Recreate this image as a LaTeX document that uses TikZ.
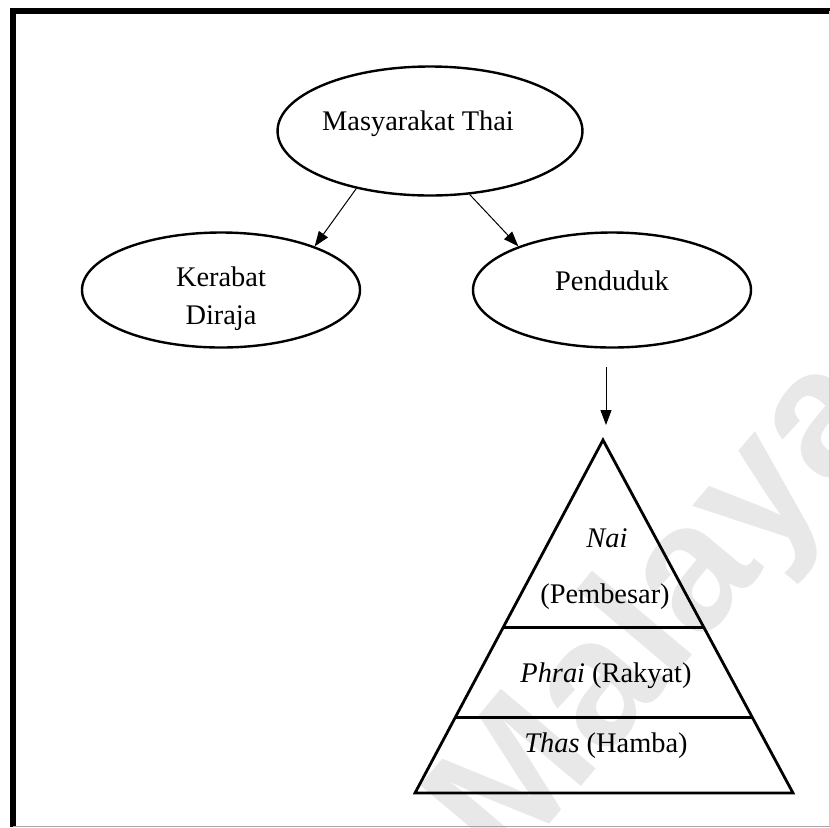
\documentclass[tikz,border=0pt]{standalone}
\usepackage{fontspec}
\setmainfont{Liberation Serif}
\newfontfamily\wmfont{Liberation Sans}
\usetikzlibrary{shapes.geometric, arrows.meta, calc}

\begin{document}
\begin{tikzpicture}[x=0.5pt, y=-0.5pt,
    blob/.style={ellipse, draw, line width=1.2pt, minimum width=139pt, minimum height=57.5pt,
      inner sep=0pt, align=center, font=\fontsize{14.2}{19}\selectfont},
    arr/.style={-{Triangle[length=7.5pt, width=5.5pt]}, line width=0.5pt},
    lbl/.style={anchor=base, font=\fontsize{14.2}{19}\selectfont},
    layer/.style={line width=1.4pt},
    wm/.style={rotate=50, text=black!9, font=\wmfont\bfseries\fontsize{90}{90}\selectfont}]
    \useasboundingbox (0,0) rectangle (830,827);
    % watermark
    \begin{scope}
      \clip (0,0) rectangle (830,827);
      \node[wm] (watermark) at (665,615) {Malaya};
    \end{scope}
    % frame
    \draw[line width=3pt] (13,827) -- (13,11) -- (830,11);
    \draw[black!35, line width=0.5pt] (13,826) -- (830,826);
    \draw[black!20, line width=0.5pt] (829,11) -- (829,826);
    % ellipses
    \node[blob, minimum width=150pt, minimum height=64.5pt, text height=10pt, text depth=10.5pt] (masy) at (430,131) {Masyarakat Thai\hspace{12pt}};
    \node[blob, text height=37.5pt] (kerabat) at (221,290) {Kerabat\\Diraja};
    \node[blob, text height=10pt, text depth=10pt] (penduduk) at (612,290) {Penduduk};
    \draw[arr] (masy.218) -- (kerabat.25);
    \draw[arr] (masy.302) -- (penduduk.155);
    % pyramid
    \coordinate (apex) at (603,440);
    \coordinate (bl) at (415,793);
    \coordinate (br) at (793,793);
    \draw[arr] ([xshift=-3pt, yshift=-9pt]penduduk.south) -- ([xshift=1.5pt, yshift=7.5pt]apex);
    \draw[layer] (apex) -- (bl) -- (br) -- cycle;
    \draw[layer] ($(apex)!0.53!(bl)$) -- ($(apex)!0.53!(br)$);
    \draw[layer] ($(apex)!0.785!(bl)$) -- ($(apex)!0.785!(br)$);
    \node[lbl] (nai) at (607,547) {\textit{Nai}};
    \node[lbl] (pembesar) at (605,603) {(Pembesar)};
    \node[lbl] (phrai) at (606,682) {\textit{Phrai} (Rakyat)};
    \node[lbl] (thas) at (606,752) {\textit{Thas} (Hamba)};
\end{tikzpicture}
\end{document}
